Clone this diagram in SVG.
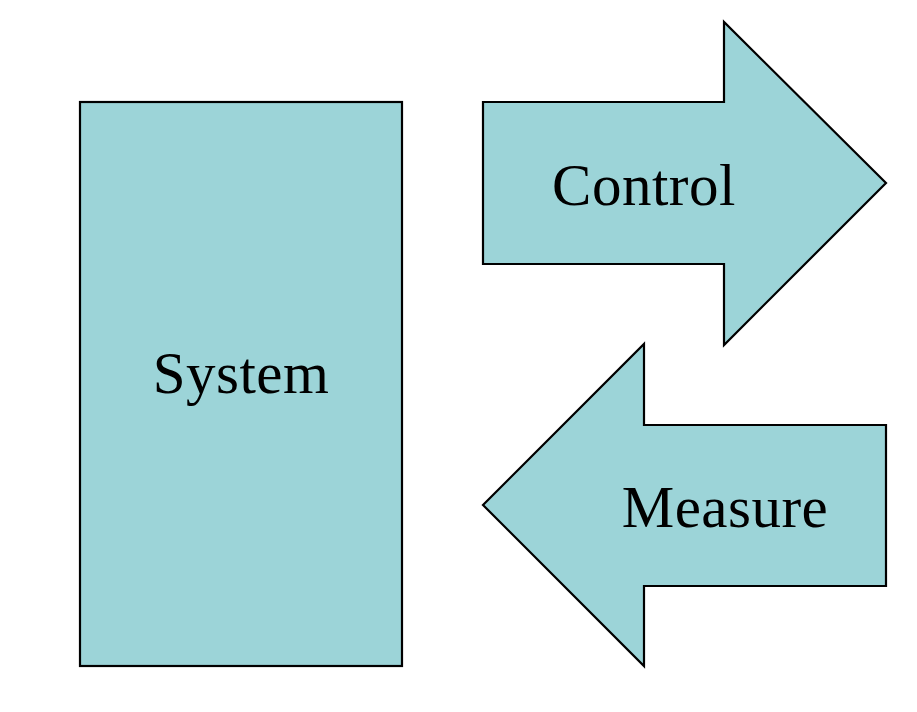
<svg xmlns="http://www.w3.org/2000/svg" width="917" height="712" viewBox="0 0 917 712">
<style>
.shape{fill:#9cd4d8;stroke:#000;stroke-width:2.2;stroke-linejoin:miter}
.lbl{font-family:"Liberation Serif","DejaVu Serif",serif;font-size:59px;fill:#000;text-anchor:middle;letter-spacing:0.5px}
</style>
<rect width="917" height="712" fill="#fff"/>
<g id="system">
<rect class="shape" x="80" y="102" width="322" height="564"/>
<text class="lbl" x="241" y="393">System</text>
</g>
<g id="control">
<polygon class="shape" points="483,102 724,102 724,22 886,183 724,345 724,264 483,264"/>
<text class="lbl" x="644" y="205">Control</text>
</g>
<g id="measure">
<polygon class="shape" points="886,425 644,425 644,344 483,505 644,666 644,586 886,586"/>
<text class="lbl" x="725" y="527">Measure</text>
</g>
<g id="connectors"></g>
</svg>
